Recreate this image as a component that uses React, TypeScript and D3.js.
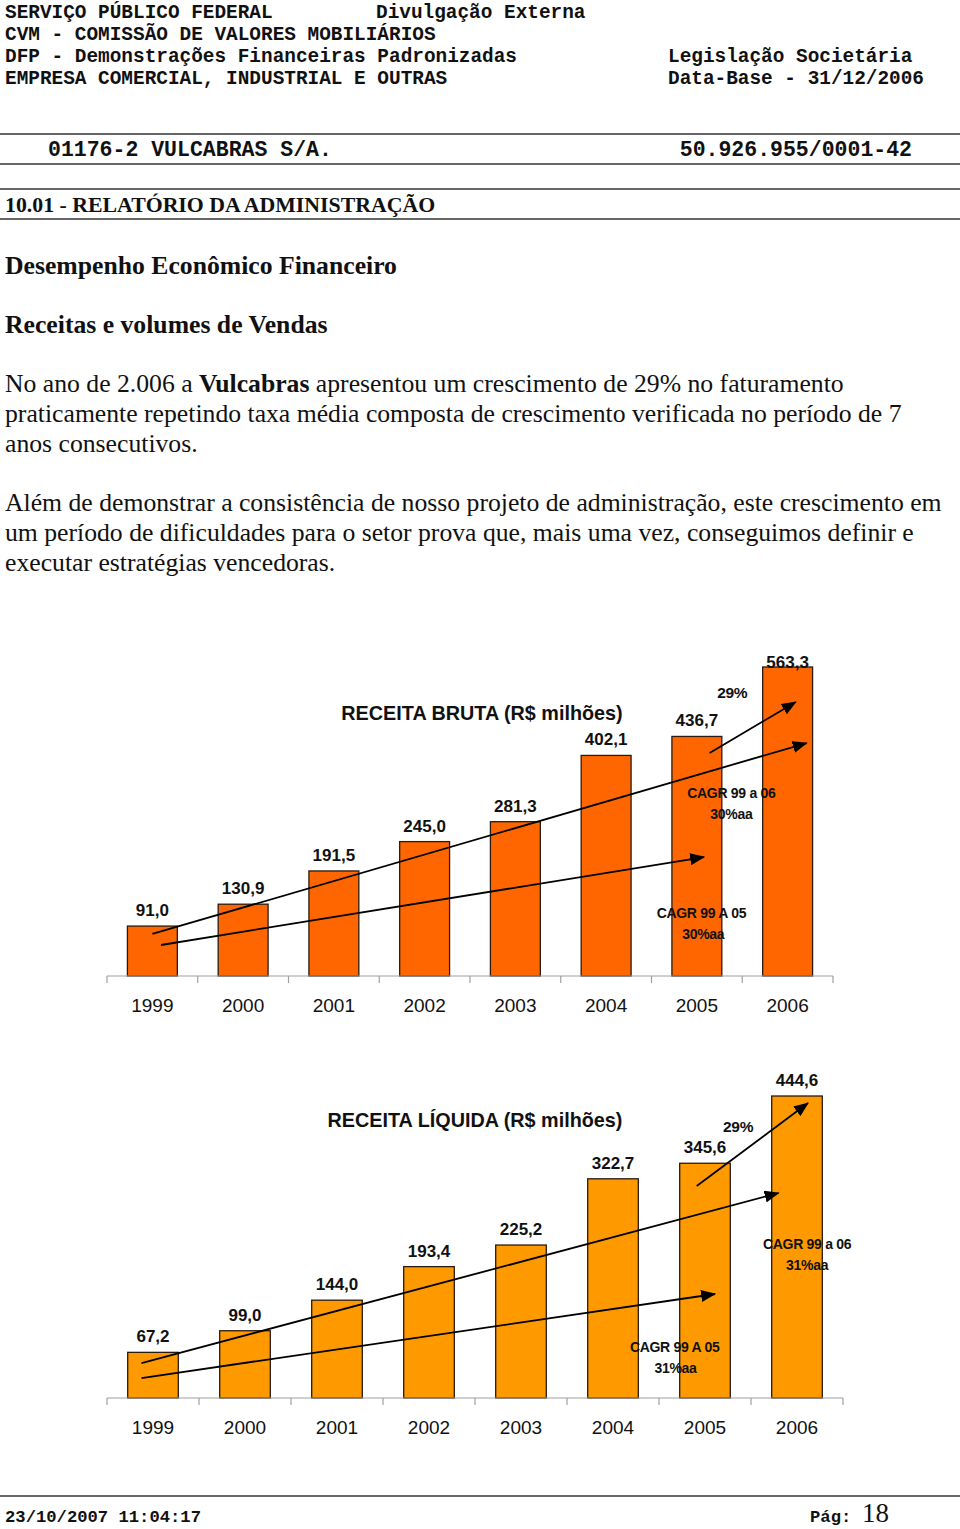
import React from "react";
import * as d3 from "d3";

const years = ["1999", "2000", "2001", "2002", "2003", "2004", "2005", "2006"];
const receitaBruta = [91.0, 130.9, 191.5, 245.0, 281.3, 402.1, 436.7, 563.3];
const receitaLiquida = [67.2, 99.0, 144.0, 193.4, 225.2, 322.7, 345.6, 444.6];

// arrows: [from index, from value, to index, to value]
const brutaArrows = [
  [0, 76.6, 7.21, 424.7],
  [0.095, 56.5, 6.08, 216.9],
  [6.14, 406.5, 7.09, 499.5],
];
const liquidaArrows = [
  [-0.125, 51.5, 6.8, 301.8],
  [-0.125, 29.4, 6.11, 153.1],
  [5.91, 312.1, 7.12, 434.3],
];
// notes: [text, index, value]
const brutaNotes: [string, number, number][] = [
  ["29%", 6.39, 516],
  ["CAGR 99 a 06", 6.38, 333.6],
  ["30%aa", 6.38, 295.3],
  ["CAGR 99 A 05", 6.05, 114.8],
  ["30%aa", 6.07, 76.6],
];
const liquidaNotes: [string, number, number][] = [
  ["29%", 6.36, 398.9],
  ["CAGR 99 a 06", 7.11, 226.7],
  ["31%aa", 7.11, 195.8],
  ["CAGR 99 A 05", 5.67, 75.1],
  ["31%aa", 5.68, 44.2],
];

const headerLeft = [
  "SERVIÇO PÚBLICO FEDERAL",
  "CVM - COMISSÃO DE VALORES MOBILIÁRIOS",
  "DFP - Demonstrações Financeiras Padronizadas",
  "EMPRESA COMERCIAL, INDUSTRIAL E OUTRAS",
];
const headerRight = ["Legislação Societária", "Data-Base - 31/12/2006"];

const para1 = [
  "praticamente repetindo taxa média composta de crescimento verificada no período de 7",
  "anos consecutivos.",
];
const para2 = [
  "Além de demonstrar a consistência de nosso projeto de administração, este crescimento em",
  "um período de dificuldades para o setor prova que, mais uma vez, conseguimos definir e",
  "executar estratégias vencedoras.",
];

const mono = "'Liberation Mono', 'DejaVu Sans Mono', monospace";
const serif = "'Liberation Serif', 'DejaVu Serif', serif";
const sans = "'Liberation Sans', Arial, sans-serif";

function BarChart(props: any) {
  const { id, title, titleX, titleY, values, color, left, right, base, top, labelMinY, yearY, arrows, notes } = props;
  const x = d3.scaleBand().domain(years).range([left, right]).paddingInner(0.45).paddingOuter(0.225);
  const y = d3.scaleLinear().domain([0, d3.max(values) as number]).range([base, top]);
  const c0 = (x(years[0]) as number) + x.bandwidth() / 2;
  const xi = d3.scaleLinear().domain([0, 1]).range([c0, c0 + x.step()]);

  return (
    <g>
      <defs>
        <marker id={id} markerUnits="userSpaceOnUse" markerWidth={16} markerHeight={12}
          refX={14} refY={6} orient="auto" viewBox="0 0 16 12">
          <path d="M0,0 L15,6 L0,12 Z" fill="#000" />
        </marker>
      </defs>
      <text x={titleX} y={titleY} textAnchor="middle" dy="0.35em" fontFamily={sans}
        fontWeight="bold" fontSize={19.8} fill="#111">{title}</text>
      {values.map((v: number, i: number) => (
        <rect key={i} x={x(years[i])} y={y(v)} width={x.bandwidth()} height={base - y(v)}
          fill={color} stroke="#2a1a10" strokeWidth={1.3} />
      ))}
      <line x1={left} x2={right} y1={base} y2={base} stroke="#a0a0a0" strokeWidth={1.2} />
      {d3.range(years.length + 1).map((k) => (
        <line key={k} x1={left + k * x.step()} x2={left + k * x.step()} y1={base} y2={base + 7}
          stroke="#a0a0a0" strokeWidth={1.2} />
      ))}
      {values.map((v: number, i: number) => (
        <text key={i} x={(x(years[i]) as number) + x.bandwidth() / 2}
          y={Math.max(y(v) - 10, labelMinY)} textAnchor="middle" fontFamily={sans}
          fontWeight="bold" fontSize={17} fill="#111">{v.toFixed(1).replace(".", ",")}</text>
      ))}
      {years.map((yr) => (
        <text key={yr} x={(x(yr) as number) + x.bandwidth() / 2} y={yearY} textAnchor="middle"
          fontFamily={sans} fontSize={19} fill="#111">{yr}</text>
      ))}
      {arrows.map((a: number[], i: number) => (
        <line key={i} x1={xi(a[0])} y1={y(a[1])} x2={xi(a[2])} y2={y(a[3])}
          stroke="#000" strokeWidth={1.8} markerEnd={`url(#${id})`} />
      ))}
      {notes.map((n: [string, number, number], i: number) => (
        <text key={i} x={xi(n[1])} y={y(n[2])} dy="0.35em" textAnchor="middle" fontFamily={sans}
          fontWeight="bold" fontSize={n[0] === "29%" ? 15.5 : 14} letterSpacing={-0.3}
          fill="#111">{n[0]}</text>
      ))}
    </g>
  );
}

export default function App() {
  return (
    <div style={{ position: "absolute", left: 0, top: 0 }}>
      <svg width={960} height={1529} style={{ display: "block", background: "#fff" }}>
        <rect width={960} height={1529} fill="#fff" />
        {headerLeft.map((t, i) => (
          <text key={t} x={5} y={18 + i * 22} fontFamily={mono} fontWeight="bold" fontSize={19.4}
            fill="#111">{t}</text>
        ))}
        <text x={376} y={18} fontFamily={mono} fontWeight="bold" fontSize={19.4} fill="#111">
          Divulgação Externa
        </text>
        {headerRight.map((t, i) => (
          <text key={t} x={668} y={62 + i * 22} fontFamily={mono} fontWeight="bold" fontSize={19.4}
            fill="#111">{t}</text>
        ))}
        <line x1={0} x2={960} y1={134} y2={134} stroke="#333" strokeWidth={1.6} />
        <text x={48} y={156} fontFamily={mono} fontWeight="bold" fontSize={21.5} fill="#111">
          01176-2 VULCABRAS S/A.
        </text>
        <text x={912} y={156} textAnchor="end" fontFamily={mono} fontWeight="bold" fontSize={21.5}
          fill="#111">50.926.955/0001-42</text>
        <line x1={0} x2={960} y1={164} y2={164} stroke="#333" strokeWidth={1.6} />
        <line x1={0} x2={960} y1={189} y2={189} stroke="#333" strokeWidth={1.6} />
        <text x={5} y={212} fontFamily={serif} fontWeight="bold" fontSize={21.8} fill="#111">
          10.01 - RELATÓRIO DA ADMINISTRAÇÃO
        </text>
        <line x1={0} x2={960} y1={219} y2={219} stroke="#333" strokeWidth={1.6} />

        <text x={5} y={274} fontFamily={serif} fontWeight="bold" fontSize={25.7} fill="#111">
          Desempenho Econômico Financeiro
        </text>
        <text x={5} y={333} fontFamily={serif} fontWeight="bold" fontSize={25.7} fill="#111">
          Receitas e volumes de Vendas
        </text>
        <text x={5} y={392} fontFamily={serif} fontSize={25.7} fill="#111">
          No ano de 2.006 a <tspan fontWeight="bold">Vulcabras</tspan> apresentou um crescimento de 29% no faturamento
        </text>
        {para1.map((t, i) => (
          <text key={t} x={5} y={422 + i * 30} fontFamily={serif} fontSize={25.7} fill="#111">{t}</text>
        ))}
        {para2.map((t, i) => (
          <text key={t} x={5} y={511 + i * 30} fontFamily={serif} fontSize={25.7} fill="#111">{t}</text>
        ))}

        <BarChart id="arrBruta" title="RECEITA BRUTA (R$ milhões)" titleX={482} titleY={713}
          values={receitaBruta} color="#ff6600" left={107} right={833} base={976} top={667}
          labelMinY={668} yearY={1012} arrows={brutaArrows} notes={brutaNotes} />
        <BarChart id="arrLiquida" title="RECEITA LÍQUIDA (R$ milhões)" titleX={475} titleY={1120}
          values={receitaLiquida} color="#ff9900" left={107} right={843} base={1398} top={1096}
          labelMinY={0} yearY={1434} arrows={liquidaArrows} notes={liquidaNotes} />

        <line x1={0} x2={960} y1={1496} y2={1496} stroke="#333" strokeWidth={1.6} />
        <text x={5} y={1522} fontFamily={mono} fontWeight="bold" fontSize={17.2} fill="#111">
          23/10/2007 11:04:17
        </text>
        <text x={810} y={1522} fontFamily={mono} fontWeight="bold" fontSize={17.2} fill="#111">Pág:</text>
        <text x={862} y={1522} fontFamily={serif} fontSize={27} fill="#111">18</text>
      </svg>
    </div>
  );
}
